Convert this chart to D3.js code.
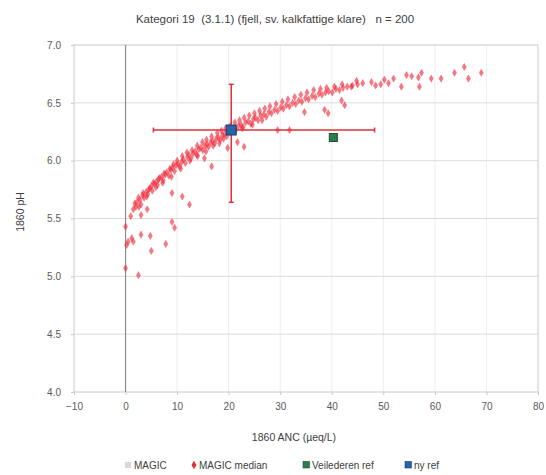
<!DOCTYPE html>
<html><head><meta charset="utf-8">
<script src="https://cdn.jsdelivr.net/npm/d3@7"></script>
<style>body{margin:0;background:#fff}svg{display:block;font-family:"Liberation Sans",Arial,sans-serif}</style>
</head><body><svg id="c" width="546" height="475"></svg>
<script>
const title = "Kategori 19  (3.1.1) (fjell, sv. kalkfattige klare)   n = 200";
const xLabel = "1860 ANC (µeq/L)";
const yLabel = "1860 pH";
const xTicks = [-10,0,10,20,30,40,50,60,70,80];
const yTicks = [4.0,4.5,5.0,5.5,6.0,6.5,7.0];
const legendLabels = ["MAGIC","MAGIC median","Veilederen ref","ny ref"];

// MAGIC lakes: [ANC, pH]
const magicANC = [1.0,1.5,2.0,2.2,2.8,3.0,3.3,3.6,4.0,4.3,4.7,5.0,5.2,5.6,6.0,6.2,6.6,7.0,7.3,7.7,8.0,8.4,8.8,9.1,9.5,9.8,10.2,10.5,10.9,11.2,11.6,12.0,12.3,12.7,13.1,13.5,13.8,14.2,14.6,15.0,15.4,15.8,16.1,16.5,16.9,17.3,17.6,18.0,18.4,18.8,19.2,19.6,20.0,20.5,21.0,21.4,21.9,22.4,22.8,23.3,23.8,24.3,24.8,25.2,25.7,26.2,26.8,27.3,27.8,28.3,28.9,29.5,30.1,30.6,31.2,31.8,32.4,33.0,33.6,34.2,34.9,35.5,36.2,36.8,37.5,38.1,38.8,39.4,40.1,40.8,41.5,42.2,43.0,44.0,
1.8,2.5,3.4,4.5,5.4,6.4,7.5,8.6,9.3,10.0,11.0,11.9,12.9,13.9,14.9,15.7,16.7,17.8,18.6,19.4,20.3,21.2,22.1,23.0,24.0,25.0,26.0,27.0,28.0,29.2,30.4,31.5,32.8,34.0,35.2,36.5,37.8,39.0,40.5,42.0,
2.6,4.1,5.9,7.2,8.9,10.7,12.5,14.0,15.6,17.0,18.2,19.0,22.6,24.6,26.5,
0.0,0.0,0.2,0.5,1.2,1.5,2.5,3.0,4.8,5.0,7.8,9.0,9.5,3.0,4.2,9.0,11.0,12.4,15.3,16.7,19.8,21.7,23.0,29.5,31.8,34.7,38.6,39.3,41.9,42.5,
43.8,45.0,46.0,47.7,48.5,49.5,51.0,52.0,53.5,54.5,56.8,57.4,57.0,59.3,61.2,63.8,65.7,66.5,69.0,44.8,50.2,55.5];
const magicPH = [5.52,5.58,5.60,5.64,5.66,5.62,5.70,5.68,5.73,5.71,5.76,5.78,5.74,5.80,5.82,5.79,5.85,5.86,5.83,5.88,5.90,5.87,5.92,5.94,5.91,5.96,5.97,5.95,5.99,6.01,5.98,6.03,6.05,6.02,6.06,6.08,6.05,6.10,6.11,6.09,6.13,6.14,6.12,6.16,6.17,6.15,6.19,6.20,6.18,6.22,6.23,6.21,6.25,6.26,6.28,6.27,6.30,6.31,6.29,6.33,6.34,6.32,6.36,6.37,6.35,6.39,6.40,6.38,6.42,6.41,6.44,6.43,6.46,6.45,6.48,6.47,6.50,6.49,6.52,6.51,6.54,6.53,6.56,6.55,6.58,6.57,6.59,6.60,6.59,6.62,6.61,6.63,6.64,6.65,
5.63,5.68,5.72,5.75,5.81,5.84,5.89,5.93,5.97,6.00,6.04,6.07,6.09,6.13,6.16,6.18,6.21,6.24,6.26,6.28,6.30,6.33,6.35,6.37,6.39,6.41,6.43,6.45,6.47,6.49,6.51,6.53,6.55,6.57,6.59,6.61,6.62,6.63,6.64,6.66,
5.60,5.69,5.77,5.81,5.86,5.93,6.00,6.04,6.08,6.13,6.15,6.19,6.28,6.31,6.35,
5.43,5.07,5.27,5.30,5.33,5.30,5.01,5.36,5.35,5.22,5.28,5.47,5.42,5.53,5.58,5.72,5.69,5.62,6.02,5.95,6.11,6.16,6.12,6.265,6.265,6.42,6.44,6.41,6.52,6.48,
6.64,6.66,6.67,6.68,6.65,6.66,6.67,6.71,6.64,6.74,6.72,6.76,6.64,6.71,6.71,6.76,6.81,6.71,6.76,6.69,6.70,6.73];

// MAGIC median with spread
const medianANC = [20.5];
const medianPH = [6.265];
const medianANCRange = [5.4, 48.3];
const medianPHRange = [5.64, 6.66];
// reference points
const veilederANC = [40.3], veilederPH = [6.20];
const nyANC = [20.5], nyPH = [6.265];

const svg = d3.select("#c");
const L=74,R=538,T=45,B=392;
const x = d3.scaleLinear().domain([-10,80]).range([L,R]);
const y = d3.scaleLinear().domain([4,7]).range([B,T]);

// gridlines
svg.append("g").selectAll("line").data(xTicks.slice(1,-1)).join("line")
  .attr("x1",d=>x(d)).attr("x2",d=>x(d)).attr("y1",T).attr("y2",B)
  .attr("stroke","#ededed").attr("stroke-width",1);
svg.append("g").selectAll("line").data(yTicks.slice(1,-1)).join("line")
  .attr("x1",L).attr("x2",R).attr("y1",d=>y(d)).attr("y2",d=>y(d))
  .attr("stroke","#dcdcdc").attr("stroke-width",1);
svg.append("rect").attr("x",L).attr("y",T).attr("width",R-L).attr("height",B-T)
  .attr("fill","none").attr("stroke","#c8c8c8");
// vertical axis at x = 0
svg.append("line").attr("x1",x(0)).attr("x2",x(0)).attr("y1",T).attr("y2",B)
  .attr("stroke","#8c8c8c").attr("stroke-width",1.2);

// axes tick labels
const xa = svg.append("g").attr("transform",`translate(0,${B})`)
  .call(d3.axisBottom(x).tickValues(xTicks).tickFormat(d3.format("d")).tickSize(3).tickPadding(8));
const ya = svg.append("g").attr("transform",`translate(${L},0)`)
  .call(d3.axisLeft(y).tickValues(yTicks).tickFormat(d3.format(".1f")).tickSize(3).tickPadding(10));
[xa,ya].forEach(a=>{a.select(".domain").remove();
  a.selectAll("line").attr("stroke","#c8c8c8");
  a.selectAll("text").attr("fill","#595959").style("font-size","10px");});

// MAGIC points
const pts = magicANC.map((d,i)=>[d,magicPH[i]]);
svg.append("g").selectAll("path").data(pts).join("path")
  .attr("transform",d=>`translate(${x(d[0])},${y(d[1])})`)
  .attr("d",d3.symbol(d3.symbolDiamond,15))
  .attr("fill","#ee2030").attr("fill-opacity",0.6).attr("stroke","#f04050").attr("stroke-opacity",0.4).attr("stroke-width",0.8);

// median error bars
const eb = svg.append("g").attr("stroke","#e0303a").attr("stroke-width",1.5);
medianANC.forEach((m,i)=>{
  eb.append("line").attr("x1",x(medianANCRange[0])).attr("x2",x(medianANCRange[1])).attr("y1",y(medianPH[i])).attr("y2",y(medianPH[i]));
  eb.append("line").attr("x1",x(m)).attr("x2",x(m)).attr("y1",y(medianPHRange[0])).attr("y2",y(medianPHRange[1]));
  [medianANCRange[0],medianANCRange[1]].forEach(v=>eb.append("line").attr("x1",x(v)).attr("x2",x(v)).attr("y1",y(medianPH[i])-2.5).attr("y2",y(medianPH[i])+2.5));
  [medianPHRange[0],medianPHRange[1]].forEach(v=>eb.append("line").attr("x1",x(m)-2.5).attr("x2",x(m)+2.5).attr("y1",y(v)).attr("y2",y(v)));
});
svg.append("g").selectAll("path").data(medianANC).join("path")
  .attr("transform",(d,i)=>`translate(${x(d)},${y(medianPH[i])})`)
  .attr("d",d3.symbol(d3.symbolDiamond,40)).attr("fill","#e0303a");

// reference squares
svg.append("g").selectAll("rect").data(veilederANC).join("rect")
  .attr("x",(d)=>x(d)-4).attr("y",(d,i)=>y(veilederPH[i])-4).attr("width",8).attr("height",8)
  .attr("fill","#2e7d50").attr("stroke","#1b4d30");
svg.append("g").selectAll("rect").data(nyANC).join("rect")
  .attr("x",(d)=>x(d)-5).attr("y",(d,i)=>y(nyPH[i])-5).attr("width",10).attr("height",10)
  .attr("fill","#2a63a8").attr("stroke","#173d6e");

// titles
svg.append("text").attr("x",275).attr("y",23).attr("text-anchor","middle")
  .style("font-size","11.5px").style("white-space","pre").attr("fill","#404040").text(title);
svg.append("text").attr("x",294).attr("y",441).attr("text-anchor","middle")
  .style("font-size","10.5px").attr("fill","#404040").text(xLabel);
svg.append("text").attr("transform","translate(24,212) rotate(-90)").attr("text-anchor","middle")
  .style("font-size","10.5px").attr("fill","#404040").text(yLabel);

// legend
const lg = svg.append("g").style("font-size","10px").attr("fill","#404040");
const lx = [134,199,312,414];
const ly = 469;
lg.append("rect").attr("x",lx[0]-9).attr("y",ly-7).attr("width",6).attr("height",6).attr("fill","#d8d8d8");
lg.append("path").attr("transform",`translate(${lx[1]-5},${ly-4})`).attr("d",d3.symbol(d3.symbolDiamond,22)).attr("fill","#e0303a");
lg.append("rect").attr("x",lx[2]-9).attr("y",ly-7.5).attr("width",6.5).attr("height",6.5).attr("fill","#2e7d50").attr("stroke","#1b4d30").attr("stroke-width",0.6);
lg.append("rect").attr("x",lx[3]-9).attr("y",ly-7.5).attr("width",6.5).attr("height",6.5).attr("fill","#2a63a8").attr("stroke","#173d6e").attr("stroke-width",0.6);
legendLabels.forEach((t,i)=>lg.append("text").attr("x",lx[i]).attr("y",ly).text(t));
</script></body></html>
